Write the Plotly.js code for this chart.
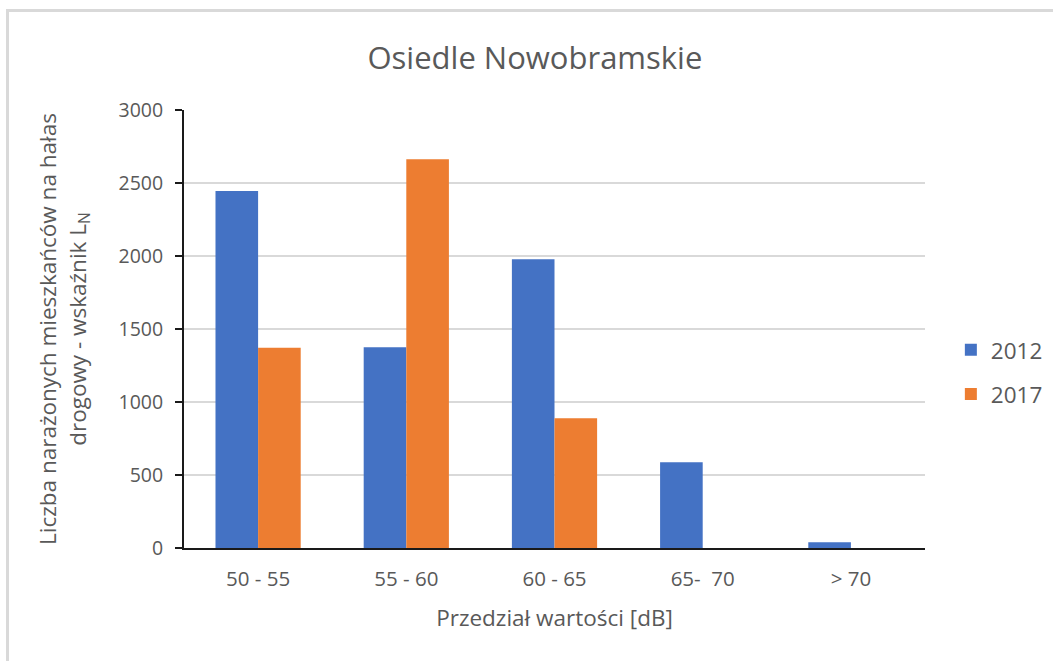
<!DOCTYPE html>
<html>
<head>
<meta charset="utf-8">
<script src="https://cdn.plot.ly/plotly-3.0.1.min.js"></script>
<style>
html,body{margin:0;padding:0;background:#fff;}
#wrap{position:relative;width:1053px;height:661px;}
#frame{position:absolute;left:6px;top:9px;right:0;bottom:0;border-top:3px solid #d9d9d9;border-left:3px solid #d9d9d9;pointer-events:none;z-index:5;}
#chart{position:absolute;left:0;top:0;width:1053px;height:661px;}
</style>
</head>
<body>
<div id="wrap">
<div id="chart"></div>
<div id="frame"></div>
</div>
<script>
const categories = ["50 - 55", "55 - 60", "60 - 65", "65-  70", "> 70"];
const values2012 = [2445, 1375, 1977, 588, 40];
const values2017 = [1372, 2662, 888, 0, 0];
const seriesNames = ["2012", "2017"];
const colors = ["#4472c4", "#ed7d31"];
const FONT = "Open Sans, sans-serif";
const GREY = "#595959";

const traces = [
  {type: "bar", name: seriesNames[0], x: categories, y: values2012,
   marker: {color: colors[0]}, legendgroup: "a"},
  {type: "bar", name: seriesNames[1], x: categories, y: values2017,
   marker: {color: colors[1]}, legendgroup: "b"}
];

const layout = {
  width: 1053, height: 661,
  margin: {l: 184, r: 128, t: 110, b: 113},
  paper_bgcolor: "#ffffff", plot_bgcolor: "#ffffff",
  font: {family: FONT, color: GREY},
  title: {text: "Osiedle Nowobramskie", font: {size: 31, color: GREY, family: FONT},
          x: 0.508, xanchor: "center", y: 0.912, yanchor: "middle"},
  barmode: "group", bargap: 0.425, bargroupgap: 0,
  xaxis: {
    type: "category", automargin: false,
    showline: true, linecolor: "#1a1a1a", linewidth: 2,
    ticks: "", tickfont: {size: 20.5, color: GREY, family: FONT},
    ticklabelstandoff: 11,
    title: {text: "Przedział wartości [dB]", font: {size: 22.5, color: GREY, family: FONT}, standoff: 20}
  },
  yaxis: {
    range: [0, 3000], dtick: 500, tick0: 0, automargin: false,
    showline: true, linecolor: "#1a1a1a", linewidth: 2,
    ticks: "outside", ticklen: 7, tickwidth: 2, tickcolor: "#1a1a1a",
    showgrid: true, gridcolor: "#d9d9d9", gridwidth: 2,
    zeroline: false,
    tickfont: {size: 19.5, color: GREY, family: FONT},
    ticklabelstandoff: 8,
    title: {text: "Liczba narażonych mieszkańców na hałas<br>drogowy - wskaźnik L<sub>N</sub>",
            font: {size: 22.5, color: GREY, family: FONT}, standoff: 26}
  },
  legend: {xref: "container", yref: "container", x: 0.903, y: 0.437,
           xanchor: "left", yanchor: "middle",
           font: {size: 22.5, color: GREY, family: FONT},
           tracegroupgap: 12, traceorder: "grouped", itemwidth: 30},
  showlegend: true
};

Plotly.newPlot("chart", traces, layout, {displayModeBar: false, staticPlot: true});
</script>
</body>
</html>
